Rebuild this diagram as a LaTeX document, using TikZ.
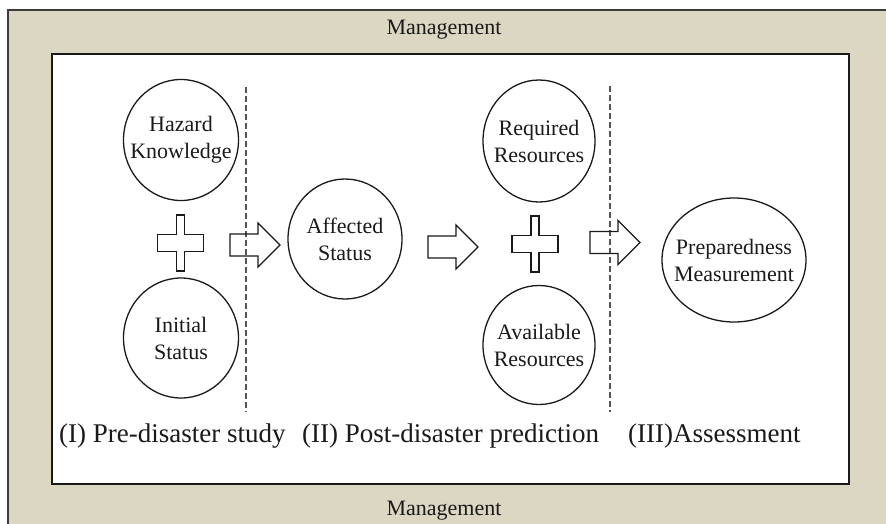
\documentclass[tikz,border=0pt]{standalone}
\usepackage{fontspec}
\setmainfont{Liberation Serif}
\usetikzlibrary{shapes.geometric}

\definecolor{framebg}{HTML}{DCD7C3}
\definecolor{ink}{HTML}{1A1A1A}
\definecolor{sepgray}{HTML}{555555}

\tikzset{
  stage/.style={draw=ink, line width=1.3pt, ellipse, inner sep=0pt},
  stagetext/.style={align=center, text=ink, inner sep=0pt,
                    font=\fontsize{22}{27}\selectfont},
  blockshape/.style={draw=ink, line width=1.3pt, line join=miter},
  separator/.style={draw=sepgray, line width=1.4pt, dash pattern=on 6pt off 3pt},
  phase/.style={text=ink, font=\fontsize{27}{32}\selectfont, inner sep=0pt},
  mgmt/.style={text=ink, font=\fontsize{22}{26}\selectfont, inner sep=0pt},
  pics/plussign/.style={code={
    \draw[blockshape] (-4,-28) -- (4,-28) -- (4,-8.5) -- (23,-8.5) -- (23,8.5)
      -- (4,8.5) -- (4,28) -- (-4,28) -- (-4,8.5) -- (-23,8.5) -- (-23,-8.5)
      -- (-4,-8.5) -- cycle;}},
  pics/fatarrow/.style={code={
    \draw[blockshape] (0,-11) -- (28,-11) -- (28,-22) -- (50,0) -- (28,22)
      -- (28,11) -- (0,11) -- cycle;}}
}

\begin{document}
\begin{tikzpicture}[x=1pt, y=-1pt]
  \useasboundingbox (0,0) rectangle (886,523);
  \clip (0,0) rectangle (886,523);

  % management frame and working area
  \draw[fill=framebg, draw=ink!85, line width=1.6pt] (8,10) rectangle (905,540);
  \draw[fill=white, draw=ink, line width=2.4pt] (52,54) rectangle (849,484);

  \node[mgmt, anchor=base] (mtop) at (444,34) {Management};
  \node[mgmt, anchor=base] (mbot) at (444,515) {Management};

  % phase separators
  \coordinate (s1a) at (246,87);  \coordinate (s1b) at (246,412);
  \coordinate (s2a) at (610,86);  \coordinate (s2b) at (610,412);
  \draw[separator] (s1a) -- (s1b);
  \draw[separator] (s2a) -- (s2b);

  % stages: outline first, caption centred on it
  \node[stage, minimum width=115pt, minimum height=121pt] (hk) at (181,140) {};
  \node[stage, minimum width=115pt, minimum height=120pt] (is) at (181,338) {};
  \node[stage, minimum width=114pt, minimum height=120pt] (as) at (345,239) {};
  \node[stage, minimum width=112pt, minimum height=122pt] (rr) at (539,141) {};
  \node[stage, minimum width=112pt, minimum height=119pt] (ar) at (539,345) {};
  \node[stage, minimum width=144pt, minimum height=124pt] (pm) at (734,260) {};

  \node[stagetext] (hkt) at (hk.center) {Hazard\\Knowledge};
  \node[stagetext] (ist) at (is.center) {Initial\\Status};
  \node[stagetext] (ast) at (as.center) {Affected\\Status};
  \node[stagetext] (rrt) at (rr.center) {Required\\Resources};
  \node[stagetext] (art) at (ar.center) {Available\\Resources};
  \node[stagetext] (pmt) at (pm.center) {Preparedness\\Measurement};

  % combining signs and flow arrows
  \pic at (180.5,243) {plussign};
  \pic at (535,244) {plussign};
  \pic at (230,245) {fatarrow};
  \pic at (428,247) {fatarrow};
  \pic at (590,242.5) {fatarrow};

  % phase titles
  \node[phase, anchor=base west] (p1) at (59,442) {(I) Pre-disaster study};
  \node[phase, anchor=base west] (p2) at (302,442) {(II) Post-disaster prediction};
  \node[phase, anchor=base west] (p3) at (628,442) {(III)Assessment};
\end{tikzpicture}
\end{document}
